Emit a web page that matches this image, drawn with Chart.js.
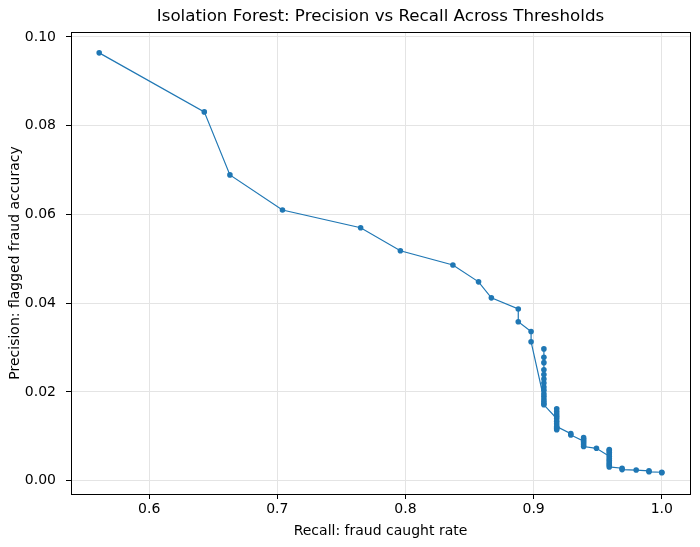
<!DOCTYPE html>
<html>
<head>
<meta charset="utf-8">
<script src="https://cdn.jsdelivr.net/npm/chart.js@4.4.1/dist/chart.umd.min.js"></script>
<style>
  html, body { margin: 0; padding: 0; background: #fff; }
  canvas { display: block; }
</style>
</head>
<body>
<canvas id="prChart" width="700" height="547"></canvas>
<script>
/* data, in plotting order */
const recall = [
  0.561, 0.643, 0.663, 0.704, 0.765, 0.796, 0.837, 0.857, 0.867,
  0.888, 0.888, 0.898, 0.898,
  0.908, 0.908, 0.908, 0.908, 0.908, 0.908, 0.908, 0.908, 0.908, 0.908, 0.908, 0.908, 0.908, 0.908, 0.908,
  0.918, 0.918, 0.918, 0.918, 0.918, 0.918, 0.918, 0.918, 0.918, 0.918, 0.918,
  0.929, 0.929,
  0.939, 0.939, 0.939, 0.939, 0.939, 0.939,
  0.949,
  0.959, 0.959, 0.959, 0.959, 0.959, 0.959, 0.959, 0.959, 0.959, 0.959, 0.959,
  0.969, 0.969,
  0.980,
  0.990, 0.990,
  1.000, 1.000
];
const precision = [
  0.0964, 0.0831, 0.0689, 0.0610, 0.0570, 0.0518, 0.0486, 0.0448, 0.0412,
  0.0387, 0.0358, 0.0336, 0.0313,
  0.0184, 0.0190, 0.0196, 0.0204, 0.0211, 0.0220, 0.0229, 0.0239, 0.0250, 0.0266, 0.0278, 0.0297, 0.0179, 0.0174, 0.0171,
  0.0140, 0.0145, 0.0150, 0.0156, 0.0162, 0.0134, 0.0128, 0.0115, 0.0118, 0.0120, 0.0122,
  0.0106, 0.0103,
  0.0089, 0.0093, 0.0097, 0.0085, 0.0081, 0.0077,
  0.0073,
  0.0055, 0.0060, 0.0064, 0.0068, 0.0070, 0.0050, 0.0046, 0.0042, 0.0038, 0.0035, 0.0031,
  0.0028, 0.0025,
  0.0024,
  0.0022, 0.0020,
  0.0019, 0.0018
];

const xTicks = [0.6, 0.7, 0.8, 0.9, 1.0];
const yTicks = [0.00, 0.02, 0.04, 0.06, 0.08, 0.10];

const BLUE = "#1f77b4";
const FONT = "DejaVu Sans";

/* matplotlib-style frame (all four spines) + title over the axes */
const framePlugin = {
  id: "frame",
  afterDraw(chart){
    const {ctx, chartArea: a} = chart;
    ctx.save();
    ctx.strokeStyle = "#000";
    ctx.lineWidth = 1;
    ctx.strokeRect(Math.round(a.left) + 0.5, Math.round(a.top) + 0.5,
                   Math.round(a.right - a.left), Math.round(a.bottom - a.top));
    ctx.fillStyle = "#000";
    ctx.font = "16.7px '" + FONT + "'";
    ctx.textAlign = "center";
    ctx.textBaseline = "middle";
    ctx.fillText("Isolation Forest: Precision vs Recall Across Thresholds", (a.left + a.right) / 2, 17);
    ctx.restore();
  }
};

function fixedTicks(list){
  return axis => { axis.ticks = list.map(v => ({value: v})); };
}

new Chart(document.getElementById("prChart"), {
  type: "scatter",
  data: {
    datasets: [{
      data: recall.map((r, i) => ({x: r, y: precision[i]})),
      showLine: true,
      borderColor: BLUE,
      backgroundColor: BLUE,
      borderWidth: 1.2,
      pointRadius: 2.8,
      pointBorderWidth: 0,
      pointHoverRadius: 2.8
    }]
  },
  options: {
    responsive: false,
    animation: false,
    devicePixelRatio: 1,
    layout: { padding: { top: 32, right: 10, left: 0, bottom: 0 } },
    plugins: {
      legend: { display: false },
      tooltip: { enabled: false }
    },
    scales: {
      x: {
        type: "linear",
        min: 0.539,
        max: 1.022,
        afterBuildTicks: fixedTicks(xTicks),
        afterFit: axis => { axis.height = 53; },
        grid: { color: "#e4e4e4", tickColor: "#000", tickLength: 5 },
        border: { display: true, color: "#000", width: 1 },
        ticks: { color: "#000", font: { family: FONT, size: 14 }, padding: 2, maxRotation: 0,
                 callback: v => v.toFixed(1) },
        title: { display: true, text: "Recall: fraud caught rate", color: "#000",
                 font: { family: FONT, size: 14 }, padding: { top: 4, bottom: 7 } }
      },
      y: {
        type: "linear",
        min: -0.003,
        max: 0.1011,
        afterBuildTicks: fixedTicks(yTicks),
        afterFit: axis => { axis.width = 71; },
        grid: { color: "#e4e4e4", tickColor: "#000", tickLength: 5 },
        border: { display: true, color: "#000", width: 1 },
        ticks: { color: "#000", font: { family: FONT, size: 14 }, padding: 10,
                 callback: v => v.toFixed(2) },
        title: { display: true, text: "Precision: flagged fraud accuracy", color: "#000",
                 font: { family: FONT, size: 14 }, padding: { top: 7, bottom: 4 } }
      }
    }
  },
  plugins: [framePlugin]
});
</script>
</body>
</html>
